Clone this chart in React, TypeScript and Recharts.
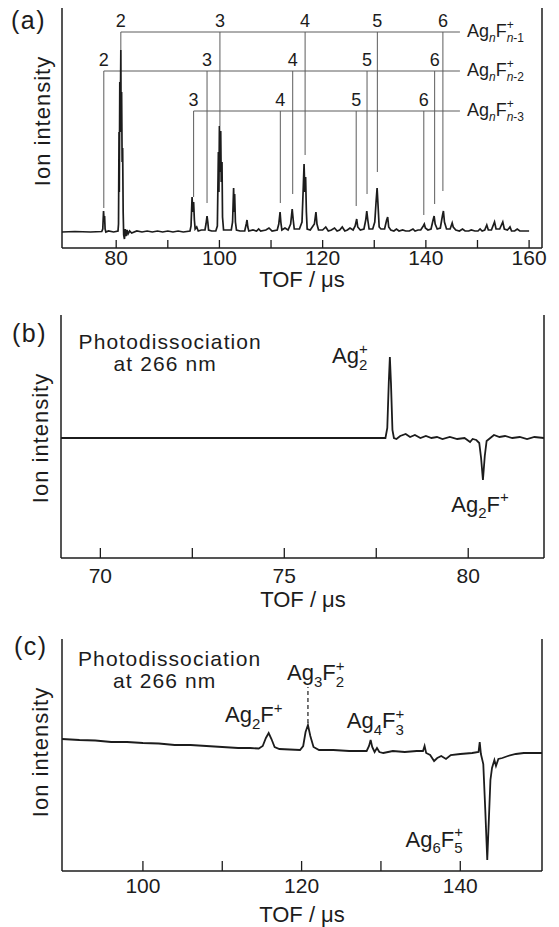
import React from "react";
import { LineChart, Line, XAxis, YAxis, ReferenceLine, ReferenceDot } from "recharts";

const FONT = '"Liberation Sans", Arial, Helvetica, sans-serif';
const INK = "#1c1c1c";
const GUIDE = "#5c5c5c";

type Pt = [number, number];

// ---------- (a) cluster mass spectrum: [TOF µs, intensity] ----------
const spectrumA: Pt[] = [
  [69.5, 0], [72, 0.5], [75, 0], [77.2, 0.5], [77.4, 3], [77.55, 21], [77.65, 12], [77.75, 16], [77.85, 3],
  [78.0, 0], [78.5, 1], [79.5, 0], [80.35, 1], [80.45, 8], [80.55, 100], [80.6, 40], [80.7, 150], [80.8, 120],
  [80.9, 182], [80.95, 100], [81.05, 140], [81.15, 70], [81.25, 84], [81.35, 20], [81.45, -3], [81.6, -7],
  [81.75, 3], [81.9, -4], [82.1, 2], [82.3, -2], [82.6, 1], [83, -1], [84, 1], [85, 0], [86, 1], [87, 0],
  [88, 1], [89, 0], [90, 1], [91, 0], [92, 1], [93, 0], [94.3, 1], [94.5, 6], [94.7, 35], [94.85, 20],
  [95.0, 30], [95.15, 12], [95.3, 3], [95.6, 5], [95.9, 1], [96.5, 2], [97.2, 2], [97.4, 8], [97.6, 16],
  [97.75, 10], [97.9, 2], [98.5, 1], [99.3, 1], [99.6, 6], [99.8, 80], [99.9, 40], [100.0, 106], [100.1, 60],
  [100.25, 101], [100.35, 50], [100.5, 70], [100.6, 15], [100.8, 2], [101.5, 2], [102.3, 2], [102.55, 10],
  [102.75, 44], [102.85, 20], [102.95, 38], [103.1, 10], [103.3, 2], [104, 1], [104.9, 1], [105.2, 8],
  [105.35, 12], [105.5, 5], [105.7, 1], [106.5, 2], [107.2, 1], [107.6, 3], [108, 1], [109, 2], [109.6, 4],
  [110.2, 1], [111.2, 2], [111.5, 8], [111.75, 20], [111.9, 10], [112.1, 2], [112.7, 4], [113.3, 2],
  [113.8, 8], [114.1, 23], [114.3, 12], [114.5, 3], [115.5, 3], [116.0, 10], [116.25, 45], [116.4, 68],
  [116.55, 40], [116.7, 55], [116.85, 20], [117.0, 3], [117.6, 2], [118.4, 8], [118.7, 20], [118.9, 8],
  [119.2, 2], [120.0, 2], [120.6, 5], [121.1, 1], [121.7, 2], [122.3, 4], [122.8, 1], [123.3, 2], [123.8, 5],
  [124.3, 1], [124.8, 2], [125.3, 4], [125.9, 2], [126.3, 6], [126.6, 13], [126.8, 5], [127.3, 2], [128.0, 3],
  [128.35, 12], [128.55, 21], [128.75, 12], [129.0, 3], [129.7, 3], [130.1, 10], [130.35, 30], [130.55, 44],
  [130.75, 25], [130.95, 5], [131.3, 3], [132.0, 3], [132.4, 12], [132.6, 15], [132.8, 5], [133.2, 2],
  [133.8, 1], [134.3, 3], [134.8, 1], [135.5, 2], [136.1, 1], [136.8, 1], [137.5, 3], [137.9, 1], [138.5, 2],
  [139.0, 2], [139.5, 6], [139.7, 8], [139.9, 4], [140.4, 2], [141.0, 3], [141.4, 12], [141.6, 16],
  [141.8, 8], [142.2, 3], [142.8, 4], [143.2, 16], [143.4, 21], [143.6, 10], [144.0, 3], [144.7, 3],
  [145.1, 9], [145.3, 5], [145.8, 2], [146.5, 1], [147.1, 3], [147.6, 1], [148.3, 1], [148.8, 2], [149.5, 1],
  [150.1, 1], [150.5, 3], [150.9, 1], [151.4, 2], [151.8, 7], [152.1, 2], [152.7, 2], [153.3, 10], [153.6, 3],
  [154.3, 3], [154.9, 10], [155.2, 3], [155.8, 2], [156.3, 5], [156.6, 1], [157.2, 1], [157.7, 3], [158.2, 1],
  [159, 1], [160, 1],
];
const domainA: [number, number] = [69.5, 162.5];
const rangeA: [number, number] = [-16, 224];
const ticksA = [80, 90, 100, 110, 120, 130, 140, 150, 160];
const labelsA = [80, 100, 120, 140, 160];

// assignment ladders of (a): [n, TOF of marker, lower end of marker]
type Mark = [number, number, number];
const ladderSubs = ["n-1", "n-2", "n-3"];
const ladderLevels = [200, 161, 121];
const ladderMarks: Mark[][] = [
  [[2, 80.9, 182], [3, 100.1, 106], [4, 116.6, 77], [5, 130.6, 60], [6, 143.3, 41]],
  [[2, 77.6, 24], [3, 97.6, 29], [4, 114.2, 38], [5, 128.6, 38], [6, 141.7, 28]],
  [[3, 95.0, 35], [4, 111.8, 29], [5, 126.5, 26], [6, 139.6, 17]],
];
const ladderEnd = 146.6;

// ---------- (b) photodissociation of Ag2F+ ----------
const spectrumB: Pt[] = [
  [68.93, 0], [71, 0], [73, 0], [75, 0], [77, 0], [77.75, 0], [77.8, 10], [77.84, 55], [77.87, 81],
  [77.9, 55], [77.94, 8], [77.98, 0], [78.05, -1], [78.15, 2], [78.3, 4], [78.42, 1], [78.55, 3], [78.7, 0],
  [78.85, 2], [79.0, 0], [79.15, 1], [79.3, -1], [79.5, 1], [79.7, -1], [79.9, 0], [80.05, -4], [80.12, -1],
  [80.22, -2], [80.3, -5], [80.35, -20], [80.4, -42], [80.45, -18], [80.5, -3], [80.6, 0], [80.7, 3],
  [80.85, 1], [81.0, 2], [81.2, 0], [81.4, 1], [81.6, -1], [81.8, 1], [82.06, 0],
];
const domainB: [number, number] = [68.93, 82.06];
const rangeB: [number, number] = [-120, 123];
const ticksB = [70, 72.5, 75, 77.5, 80];
const labelsB = [70, 75, 80];

// ---------- (c) photodissociation of Ag6F5+ ----------
const spectrumC: Pt[] = [
  [89.8, 11], [92, 10], [94, 9.5], [96, 8], [98, 8], [100, 7], [102, 6.5], [104, 5], [106, 5], [108, 4],
  [110, 3], [112, 2], [113.5, 2], [114.6, 1.5], [115.1, 4], [115.5, 12], [115.85, 17], [116.2, 11],
  [116.6, 3], [117.2, 1], [118.5, 0.5], [119.8, 0], [120.2, 4], [120.5, 18], [120.8, 25], [121.1, 14],
  [121.5, 3], [122.2, 0], [124, 0], [126, -1], [128.2, -1], [128.5, 4], [128.7, 10], [128.9, 3], [129.2, -2],
  [129.5, 2], [129.8, -2], [130.3, -3], [131.5, -1], [133, -2], [134.5, -1], [135.3, -1], [135.5, 4],
  [135.7, -3], [136.2, -5], [136.7, -11], [137.1, -8], [137.6, -6], [138.2, -9], [138.8, -5], [140, -4],
  [141.5, -3], [142.3, -2], [142.45, 8], [142.6, -4], [142.9, -14], [143.15, -60], [143.4, -110],
  [143.6, -70], [143.8, -30], [144.0, -18], [144.3, -10], [144.5, -16], [144.8, -9], [145.3, -8], [146, -6],
  [147, -4], [148, -3], [149, -3], [150.3, -3],
];
const domainC: [number, number] = [89.8, 150.3];
const rangeC: [number, number] = [-121, 111];
const ticksC = [100, 110, 120, 130, 140];
const labelsC = [100, 120, 140];

const rows = (pts: Pt[]) => pts.map(([t, v]) => ({ t, v }));

type Piece = { m: string; sub?: string; sup?: string };

function subText(s: string) {
  if (s.startsWith("n")) return [<tspan key="i" fontStyle="italic">n</tspan>, s.slice(1)];
  return s;
}

function Formula({ x, y, size, pieces }: { x: number; y: number; size: number; pieces: Piece[] }) {
  const small = Math.round(size * 0.68);
  const up = -size * 0.42;
  const down = size * 0.3;
  const spans: React.ReactNode[] = [];
  let cur = 0;
  pieces.forEach((p, i) => {
    spans.push(<tspan key={`m${i}`} dy={-cur} fontSize={size}>{p.m}</tspan>);
    cur = 0;
    if (p.sup) {
      spans.push(<tspan key={`p${i}`} dy={up} fontSize={small}>{p.sup}</tspan>);
      cur = up;
    }
    if (p.sub) {
      const dx = p.sup ? -small * 0.584 : 0;
      spans.push(<tspan key={`s${i}`} dx={dx} dy={down - cur} fontSize={small}>{subText(p.sub)}</tspan>);
      cur = down;
    }
  });
  return <text x={x} y={y} fill={INK} fontFamily={FONT}>{spans}</text>;
}

const tickBottom = (labeled: number[], len: number, gap: number) => (p: any) => (
  <g>
    <line x1={p.x} x2={p.x} y1={p.y} y2={p.y - len} stroke={INK} strokeWidth={1.3} />
    {labeled.includes(p.payload.value) && (
      <text x={p.x} y={p.y + gap} textAnchor="middle" fontSize={21} fill={INK} fontFamily={FONT}>
        {p.payload.value}
      </text>
    )}
  </g>
);
const tickTop = (len: number) => (p: any) => (
  <line x1={p.x} x2={p.x} y1={p.y} y2={p.y + len} stroke={INK} strokeWidth={1.3} />
);

const AXIS_LINE = { stroke: INK, strokeWidth: 1.5 };

function sideText(letter: string, lx: number, ly: number, tx: number, ty: number) {
  return () => (
    <g fill={INK} fontFamily={FONT}>
      <text x={lx} y={ly} fontSize={25} letterSpacing={1.5}>{letter}</text>
      <text x={tx} y={ty} transform={`rotate(-90 ${tx} ${ty})`} textAnchor="middle" fontSize={22} letterSpacing={1}>
        Ion intensity
      </text>
    </g>
  );
}
const tofTitle = (cx: number, cy: number) => () => (
  <text x={cx} y={cy} textAnchor="middle" fontSize={22} fill={INK} fontFamily={FONT}>TOF / μs</text>
);

function photoNote(dx2: number) {
  return (p: any) => (
    <g fill={INK} fontFamily={FONT} fontSize={21} textAnchor="middle" letterSpacing={1.1}>
      <text x={p.cx} y={p.cy}>Photodissociation</text>
      <text x={p.cx + dx2} y={p.cy + 22}>at 266 nm</text>
    </g>
  );
}

const formulaAt = (pieces: Piece[], size: number, dx = 0, dy = 0) => (p: any) => (
  <Formula x={p.cx + dx} y={p.cy + dy} size={size} pieces={pieces} />
);

function PanelA() {
  return (
    <LineChart width={559} height={300} data={rows(spectrumA)} margin={{ top: 8, right: 16, bottom: 12, left: 0 }}>
      <XAxis xAxisId="b" type="number" dataKey="t" domain={domainA} allowDataOverflow ticks={ticksA} interval={0}
        height={40} axisLine={AXIS_LINE} tickLine={false} tickSize={0} tickMargin={0}
        tick={tickBottom(labelsA, 8, 17)} label={tofTitle(302, 287)} />
      <XAxis xAxisId="t" orientation="top" type="number" dataKey="t" domain={domainA} allowDataOverflow
        height={0} axisLine={AXIS_LINE} tick={false} tickLine={false} />
      <YAxis yAxisId="l" type="number" domain={rangeA} allowDataOverflow width={62} axisLine={AXIS_LINE}
        tick={false} tickLine={false} label={sideText("(a)", 11, 29, 49.5, 121)} />
      <YAxis yAxisId="r" orientation="right" type="number" domain={rangeA} allowDataOverflow width={1}
        axisLine={AXIS_LINE} tick={false} tickLine={false} />
      {ladderMarks.map((marks, r) => (
        <React.Fragment key={`lad${r}`}>
          <ReferenceLine xAxisId="b" yAxisId="l" stroke={GUIDE} strokeWidth={1}
            segment={[{ x: marks[0][1], y: ladderLevels[r] }, { x: ladderEnd, y: ladderLevels[r] }]} />
          {marks.map(([n, t, low]) => (
            <React.Fragment key={`m${r}-${n}`}>
              <ReferenceLine xAxisId="b" yAxisId="l" stroke={GUIDE} strokeWidth={1}
                segment={[{ x: t, y: ladderLevels[r] }, { x: t, y: low }]} />
              <ReferenceDot xAxisId="b" yAxisId="l" x={t} y={ladderLevels[r]}
                shape={(p: any) => (
                  <text x={p.cx} y={p.cy - 5} textAnchor="middle" fontSize={18} fill={INK} fontFamily={FONT}>{n}</text>
                )} />
            </React.Fragment>
          ))}
          <ReferenceDot xAxisId="b" yAxisId="l" x={ladderEnd} y={ladderLevels[r]}
            shape={formulaAt([{ m: "Ag", sub: "n" }, { m: "F", sup: "+", sub: ladderSubs[r] }], 18, 7, 5)} />
        </React.Fragment>
      ))}
      <Line xAxisId="b" yAxisId="l" dataKey="v" type="linear" dot={false} stroke={INK} strokeWidth={1.7}
        isAnimationActive={false} />
    </LineChart>
  );
}

function PanelB() {
  return (
    <LineChart width={559} height={320} data={rows(spectrumB)} margin={{ top: 15, right: 14, bottom: 22, left: 0 }}>
      <XAxis xAxisId="b" type="number" dataKey="t" domain={domainB} allowDataOverflow ticks={ticksB} interval={0}
        height={40} axisLine={AXIS_LINE} tickLine={false} tickSize={0} tickMargin={0}
        tick={tickBottom(labelsB, 10, 25)} label={tofTitle(303, 307)} />
      <XAxis xAxisId="t" orientation="top" type="number" dataKey="t" domain={domainB} allowDataOverflow
        ticks={ticksB} interval={0} height={0} axisLine={AXIS_LINE} tickLine={false} tickSize={0} tickMargin={0}
        tick={tickTop(10)} />
      <YAxis yAxisId="l" type="number" domain={rangeB} allowDataOverflow width={61} axisLine={AXIS_LINE}
        tick={false} tickLine={false} label={sideText("(b)", 12, 41.5, 48, 138)} />
      <YAxis yAxisId="r" orientation="right" type="number" domain={rangeB} allowDataOverflow width={1}
        axisLine={AXIS_LINE} tick={false} tickLine={false} />
      <ReferenceDot xAxisId="b" yAxisId="l" x={71.9} y={89} shape={photoNote(-5)} />
      <ReferenceDot xAxisId="b" yAxisId="l" x={76.3} y={74.7} shape={formulaAt([{ m: "Ag", sup: "+", sub: "2" }], 22)} />
      <ReferenceDot xAxisId="b" yAxisId="l" x={79.54} y={-73.7}
        shape={formulaAt([{ m: "Ag", sub: "2" }, { m: "F", sup: "+" }], 22)} />
      <Line xAxisId="b" yAxisId="l" dataKey="v" type="linear" dot={false} stroke={INK} strokeWidth={1.8}
        isAnimationActive={false} />
    </LineChart>
  );
}

function PanelC() {
  return (
    <LineChart width={559} height={307} data={rows(spectrumC)} margin={{ top: 19, right: 16, bottom: 16, left: 0 }}>
      <XAxis xAxisId="b" type="number" dataKey="t" domain={domainC} allowDataOverflow ticks={ticksC} interval={0}
        height={40} axisLine={AXIS_LINE} tickLine={false} tickSize={0} tickMargin={0}
        tick={tickBottom(labelsC, 10, 22)} label={tofTitle(302, 302)} />
      <XAxis xAxisId="t" orientation="top" type="number" dataKey="t" domain={domainC} allowDataOverflow
        ticks={ticksC} interval={0} height={0} axisLine={AXIS_LINE} tickLine={false} tickSize={0} tickMargin={0}
        tick={tickTop(10)} />
      <YAxis yAxisId="l" type="number" domain={rangeC} allowDataOverflow width={62} axisLine={AXIS_LINE}
        tick={false} tickLine={false} label={sideText("(c)", 14, 35, 48, 132)} />
      <YAxis yAxisId="r" orientation="right" type="number" domain={rangeC} allowDataOverflow width={1}
        axisLine={AXIS_LINE} tick={false} tickLine={false} />
      <ReferenceLine xAxisId="b" yAxisId="l" stroke={INK} strokeWidth={1.2} strokeDasharray="4 3"
        segment={[{ x: 120.8, y: 27 }, { x: 120.8, y: 63 }]} />
      <ReferenceDot xAxisId="b" yAxisId="l" x={103.37} y={84} shape={photoNote(-5)} />
      <ReferenceDot xAxisId="b" yAxisId="l" x={110.35} y={28}
        shape={formulaAt([{ m: "Ag", sub: "2" }, { m: "F", sup: "+" }], 22)} />
      <ReferenceDot xAxisId="b" yAxisId="l" x={118.17} y={70}
        shape={formulaAt([{ m: "Ag", sub: "3" }, { m: "F", sup: "+", sub: "2" }], 22)} />
      <ReferenceDot xAxisId="b" yAxisId="l" x={125.7} y={21.7}
        shape={formulaAt([{ m: "Ag", sub: "4" }, { m: "F", sup: "+", sub: "3" }], 22)} />
      <ReferenceDot xAxisId="b" yAxisId="l" x={133.1} y={-96.7}
        shape={formulaAt([{ m: "Ag", sub: "6" }, { m: "F", sup: "+", sub: "5" }], 22)} />
      <Line xAxisId="b" yAxisId="l" dataKey="v" type="linear" dot={false} stroke={INK} strokeWidth={1.8}
        isAnimationActive={false} />
    </LineChart>
  );
}

export default function App() {
  return (
    <div style={{ position: "absolute", left: 0, top: 0, width: 559, height: 927, background: "#fff" }}>
      <div style={{ position: "absolute", left: 0, top: 0 }}><PanelA /></div>
      <div style={{ position: "absolute", left: 0, top: 300 }}><PanelB /></div>
      <div style={{ position: "absolute", left: 0, top: 620 }}><PanelC /></div>
    </div>
  );
}
